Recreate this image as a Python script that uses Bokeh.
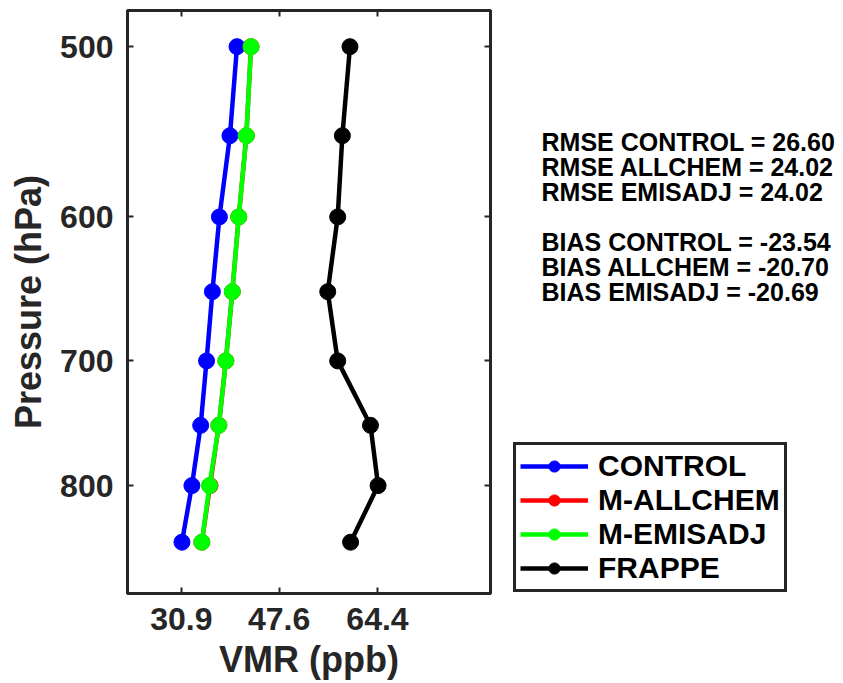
from bokeh.plotting import figure
from bokeh.layouts import row
from bokeh.models import (Range1d, FixedTicker, PrintfTickFormatter, LinearAxis, LogAxis,
                          Legend, LegendItem, Label)
from bokeh.embed import file_html
from bokeh.resources import INLINE

# ---- data ----
pressure = [500, 550, 600, 650, 700, 750, 800, 850]
control = [40.4, 39.2, 37.4, 36.2, 35.2, 34.2, 32.7, 31.0]
allchem = [42.8, 42.0, 40.7, 39.6, 38.5, 37.3, 35.8, 34.4]
emisadj = [42.8, 42.0, 40.7, 39.6, 38.5, 37.3, 35.7, 34.4]
frappe = [59.7, 58.4, 57.6, 55.9, 57.6, 63.2, 64.5, 59.8]
x_ticks = [30.9, 47.6, 64.4]
y_ticks = [500, 600, 700, 800]
stats = ["RMSE CONTROL = 26.60", "RMSE ALLCHEM = 24.02", "RMSE EMISADJ = 24.02",
         "", "BIAS CONTROL = -23.54", "BIAS ALLCHEM = -20.70", "BIAS EMISADJ = -20.69"]

FONT = "Liberation Sans"
GREY = "#262626"
W_MAIN = 500
H = 683
TOP, BOTTOM = 10, 90
FRAME_BOTTOM = H - BOTTOM  # canvas y of the frame's lower edge

p = figure(width=W_MAIN, height=H, output_backend="svg", toolbar_location=None,
           x_range=Range1d(21.7, 83.7), y_range=Range1d(898, 481),
           y_axis_type="log", min_border_left=127, min_border_right=W_MAIN - 490,
           min_border_top=TOP, min_border_bottom=BOTTOM)
p.grid.visible = False
p.outline_line_color = GREY
p.outline_line_width = 3
p.background_fill_color = "white"
p.border_fill_color = "white"

series = [("CONTROL", control, "#0000ff"), ("M-ALLCHEM", allchem, "#ff0000"),
          ("M-EMISADJ", emisadj, "#00ff00"), ("FRAPPE", frappe, "#000000")]
for name, vals, col in series:
    p.line(vals, pressure, line_color=col, line_width=4.5)
    p.scatter(vals, pressure, size=16, fill_color=col, line_color=col)

def style_axis(ax, show_labels=True):
    ax.axis_line_color = GREY
    ax.axis_line_width = 3
    ax.major_tick_in = 6
    ax.major_tick_out = 0
    ax.minor_tick_line_color = None
    ax.major_tick_line_color = GREY
    ax.major_tick_line_width = 2
    ax.major_label_text_font = FONT
    ax.major_label_text_font_style = "bold"
    ax.major_label_text_color = GREY
    ax.major_label_text_font_size = "32px"
    ax.axis_label_text_font = FONT
    ax.axis_label_text_font_style = "bold"
    ax.axis_label_text_color = GREY
    ax.axis_label_text_font_size = "36px"
    if not show_labels:
        ax.major_label_text_font_size = "0px"
        ax.major_label_text_color = None
        ax.major_label_standoff = 0

xa = p.xaxis[0]
style_axis(xa)
xa.ticker = FixedTicker(ticks=x_ticks)
xa.formatter = PrintfTickFormatter(format="%.1f")
xa.axis_label = "VMR (ppb)"
xa.major_label_standoff = 14
xa.axis_label_standoff = 6

ya = p.yaxis[0]
style_axis(ya)
ya.ticker = FixedTicker(ticks=y_ticks)
ya.formatter = PrintfTickFormatter(format="%d")
ya.axis_label = "Pressure (hPa)"
ya.major_label_standoff = 14
ya.axis_label_standoff = 8

top = LinearAxis(ticker=FixedTicker(ticks=x_ticks))
style_axis(top, False)
p.add_layout(top, "above")
right = LogAxis(ticker=FixedTicker(ticks=y_ticks))
style_axis(right, False)
p.add_layout(right, "right")

# ---- side panel: statistics and legend ----
W_SIDE = 843 - W_MAIN
p2 = figure(width=W_SIDE, height=H, output_backend="svg", toolbar_location=None,
            x_range=Range1d(0, 1), y_range=Range1d(0, 1),
            min_border_left=0, min_border_right=0, min_border_top=TOP, min_border_bottom=BOTTOM)
p2.axis.visible = False
p2.grid.visible = False
p2.outline_line_color = None
p2.background_fill_color = "white"
p2.border_fill_color = "white"

items = []
for name, vals, col in series:
    # legend keys: same series, lying outside this panel's (0..1) ranges so only the key shows
    lr = p2.line(vals, pressure, line_color=col, line_width=4.5)
    sr = p2.scatter(vals, pressure, size=13, fill_color=col, line_color=col)
    items.append(LegendItem(label=name, renderers=[lr, sr]))

legend = Legend(items=items, location=(513 - W_MAIN, 1), orientation="vertical")
legend.label_text_font = FONT
legend.label_text_font_style = "bold"
legend.label_text_font_size = "30px"
legend.label_text_color = "black"
legend.glyph_width = 68
legend.glyph_height = 28
legend.label_height = 28
legend.spacing = 0
legend.padding = 4
legend.margin = 0
legend.label_standoff = 10
legend.border_line_color = GREY
legend.border_line_width = 3
legend.border_line_alpha = 1
legend.background_fill_color = "white"
legend.background_fill_alpha = 1
p2.add_layout(legend, "center")

line_gap = 25.0
for i, t in enumerate(stats):
    if not t:
        continue
    lab = Label(x=541 - W_MAIN, y=FRAME_BOTTOM - (141 + i * line_gap),
                x_units="screen", y_units="screen",
                text=t, text_font=FONT, text_font_style="bold", text_font_size="25px",
                text_color="black", text_baseline="middle", text_align="left")
    p2.add_layout(lab)

layout = row(p, p2, spacing=0)
open("out.html", "w").write(file_html(layout, INLINE))
